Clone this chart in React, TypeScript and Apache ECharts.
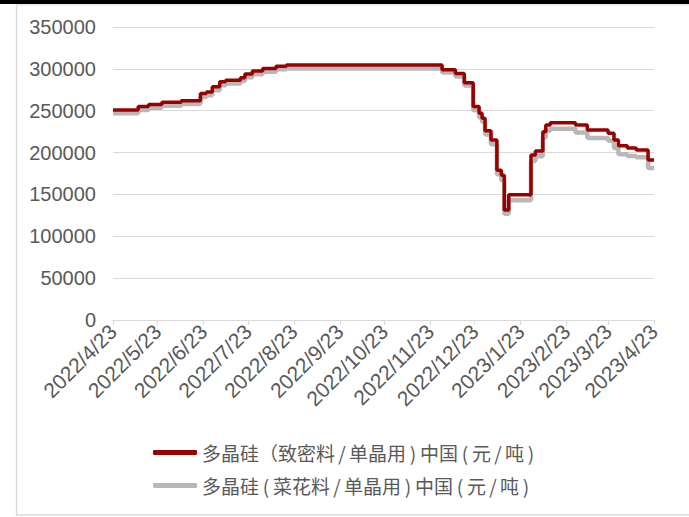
import React, { useEffect, useRef } from "react";
import * as echarts from "echarts";

// Price change dates (each value holds until the next date)
const dates = [
  "2022-04-23", "2022-05-10", "2022-05-17", "2022-05-26", "2022-06-08", "2022-06-21",
  "2022-06-25", "2022-06-29", "2022-07-04", "2022-07-08", "2022-07-18", "2022-07-21",
  "2022-07-26", "2022-08-02", "2022-08-11", "2022-08-18", "2022-12-01", "2022-12-10",
  "2022-12-16", "2022-12-22", "2022-12-26", "2022-12-28", "2022-12-30", "2023-01-03",
  "2023-01-07", "2023-01-10", "2023-01-12", "2023-01-15", "2023-01-30", "2023-02-02",
  "2023-02-07", "2023-02-09", "2023-02-12", "2023-03-01", "2023-03-09", "2023-03-23",
  "2023-03-27", "2023-03-30", "2023-04-05", "2023-04-11", "2023-04-19", "2023-04-23",
];

// 多晶硅（致密料/单晶用）
const densePrice = [
  251000, 255000, 257500, 260000, 262000, 270500,
  272500, 278500, 284500, 286500, 289500, 294000,
  297500, 300500, 303000, 304500, 299000, 294500,
  283500, 255000, 247000, 241000, 226000, 215000,
  179000, 173000, 131500, 149500, 197000, 202000,
  225000, 233000, 235500, 233000, 227000, 223000,
  215000, 208000, 205500, 203000, 191000, 191000,
];

// 多晶硅(菜花料/单晶用)
const cauliflowerPrice = [
  247000, 251000, 253500, 256000, 258000, 266500,
  268500, 274500, 280500, 282500, 285500, 290000,
  293500, 296500, 299500, 300500, 295500, 291000,
  280000, 250500, 242000, 236500, 221500, 210000,
  174000, 167000, 127000, 143000, 190000, 195500,
  218000, 226000, 228500, 224000, 217500, 214000,
  205500, 198000, 196000, 194500, 181500, 181500,
];

const seriesNames = ["多晶硅（致密料/单晶用)中国(元/吨)", "多晶硅(菜花料/单晶用)中国(元/吨)"];

// Monthly tick dates: the 23rd of each month
const tickDates = [
  "2022-04-23", "2022-05-23", "2022-06-23", "2022-07-23", "2022-08-23", "2022-09-23",
  "2022-10-23", "2022-11-23", "2022-12-23", "2023-01-23", "2023-02-23", "2023-03-23",
  "2023-04-23",
];

const toTime = (s: string) => {
  const [y, m, d] = s.split("-").map(Number);
  return new Date(y, m - 1, d).getTime();
};

export default function App() {
  const ref = useRef<HTMLDivElement>(null);

  useEffect(() => {
    if (!ref.current) return;
    const chart = echarts.init(ref.current, null, { renderer: "svg" });
    const ticks = tickDates.map(toTime);
    const labelColor = "#595959";

    chart.setOption({
      animation: false,
      backgroundColor: "#ffffff",
      grid: { left: 113, right: 35, top: 27, bottom: 197, containLabel: false },
      legend: {
        orient: "vertical",
        left: 153,
        top: 443,
        padding: 0,
        itemWidth: 44,
        itemHeight: 5,
        itemGap: 14,
        icon: "roundRect",
        textStyle: {
          fontFamily: "Noto Sans CJK SC",
          fontSize: 19,
          color: labelColor,
          rich: {
            w: { width: 14, align: "center", fontSize: 19, color: labelColor, fontFamily: "Noto Sans CJK SC" },
          },
        },
        // half-width brackets and slashes get a wider cell
        formatter: (name: string) => name.replace(/[()\/]/g, (c) => `{w|${c}}`),
        data: seriesNames,
      },
      xAxis: {
        type: "value",
        min: ticks[0],
        max: ticks[ticks.length - 1],
        axisLine: { show: true, lineStyle: { color: "#d9d9d9", width: 1 } },
        axisTick: {
          show: true,
          length: 5,
          lineStyle: { color: "#d9d9d9" },
          customValues: ticks,
        },
        axisLabel: {
          customValues: ticks,
          rotate: 45,
          margin: 8,
          color: labelColor,
          fontSize: 21,
          fontFamily: "Liberation Sans, Arial",
          hideOverlap: false,
          showMinLabel: true,
          showMaxLabel: true,
          formatter: (v: number) => {
            const d = new Date(v);
            return `${d.getFullYear()}/${d.getMonth() + 1}/${d.getDate()}`;
          },
        },
        splitLine: { show: false },
      },
      yAxis: {
        type: "value",
        min: 0,
        max: 350000,
        interval: 50000,
        axisLine: { show: false },
        axisTick: { show: false },
        axisLabel: {
          color: labelColor,
          fontSize: 20,
          fontFamily: "Liberation Sans, Arial",
          margin: 17,
          formatter: (v: number) => String(v),
        },
        splitLine: { lineStyle: { color: "#d9d9d9", width: 1 } },
      },
      series: [
        {
          name: seriesNames[0],
          type: "line",
          step: "end",
          symbol: "none",
          z: 3,
          itemStyle: { color: "#9a0000" },
          lineStyle: { color: "#9a0000", width: 3.5 },
          data: dates.map((d, i) => [toTime(d), densePrice[i]]),
        },
        {
          name: seriesNames[1],
          type: "line",
          step: "end",
          symbol: "none",
          z: 2,
          itemStyle: { color: "#b8b8b8" },
          lineStyle: { color: "#b8b8b8", width: 4.5 },
          data: dates.map((d, i) => [toTime(d), cauliflowerPrice[i]]),
        },
      ],
      graphic: [
        { type: "rect", shape: { x: 0, y: 0, width: 689, height: 4 }, style: { fill: "#000000" } },
        { type: "line", shape: { x1: 16, y1: 5, x2: 689, y2: 5 }, style: { stroke: "#d9d9d9", lineWidth: 1 } },
        { type: "line", shape: { x1: 16.5, y1: 5, x2: 16.5, y2: 515 }, style: { stroke: "#d9d9d9", lineWidth: 1.5 } },
        { type: "line", shape: { x1: 16, y1: 515, x2: 689, y2: 515 }, style: { stroke: "#d9d9d9", lineWidth: 1.5 } },
      ],
    });

    return () => chart.dispose();
  }, []);

  return (
    <div
      ref={ref}
      style={{ position: "fixed", left: 0, top: 0, width: 689, height: 517 }}
    />
  );
}
